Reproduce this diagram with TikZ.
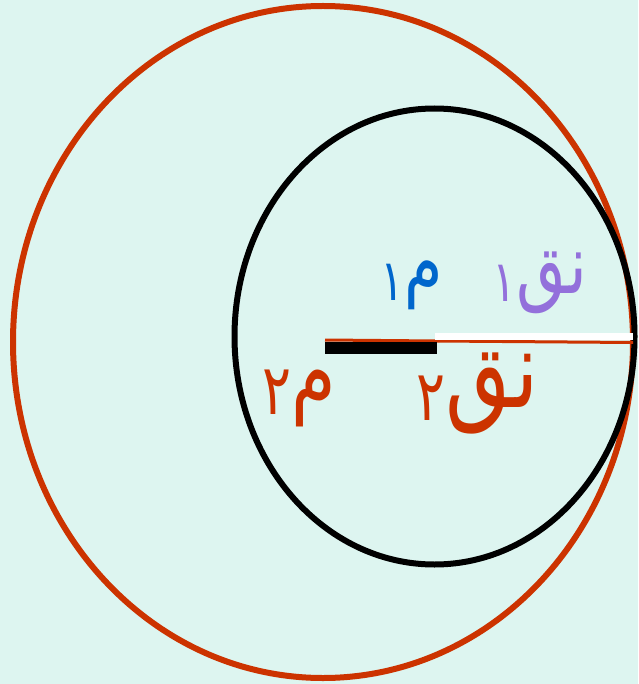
\documentclass[tikz,border=0pt]{standalone}
\usepackage{fontspec}
\usepackage{graphicx}
\newfontfamily\arabicfont[Script=Arabic]{DejaVu Sans}
\TeXXeTstate=1
\definecolor{bgmint}{RGB}{221,245,240}
\definecolor{rustred}{RGB}{204,51,0}
\definecolor{labblue}{RGB}{0,102,204}
\definecolor{labpurple}{RGB}{147,112,219}
\newcommand{\lowdig}[3]{\raisebox{#2}{\fontsize{#1}{#1}\selectfont #3}}
\newcommand{\tallar}[1]{\scalebox{1}[1.3]{#1}}
\tikzset{
  ring/.style={line width=6pt},
  lab/.style={inner sep=0pt}
}
\begin{document}
\begin{tikzpicture}[x=1pt,y=-1pt]
\fill[bgmint] (0,0) rectangle (638,684);
\useasboundingbox (0,0) rectangle (638,684);
\draw[ring, rustred] (323,342) ellipse [x radius=310, y radius=336];
\draw[ring, black] (434.5,336.5) ellipse [x radius=200, y radius=228];
\coordinate (c2) at (325,340);
\coordinate (c1) at (437,341);
\coordinate (e) at (633,342.5);
\draw[line width=3pt, rustred] (c2) -- (c1) -- (e);
\fill[black] (325,342) rectangle (437,354);
\fill[white] (435,333) rectangle (633,340);
\node[lab, text=labblue, font=\arabicfont\fontsize{62}{70}\selectfont] (m1) at (412,285) {\tallar{\beginR م\lowdig{44pt}{-8pt}{١}\endR}};
\node[lab, text=labpurple, font=\arabicfont\fontsize{64}{70}\selectfont] (n1) at (540,283) {\tallar{\beginR نق\lowdig{44pt}{-6pt}{١}\endR}};
\node[lab, text=rustred, font=\arabicfont\fontsize{72}{80}\selectfont] (m2) at (299,398) {\tallar{\beginR م\lowdig{54pt}{-8pt}{٢}\endR}};
\node[lab, text=rustred, font=\arabicfont\fontsize{84}{90}\selectfont] (n2) at (478,394) {\tallar{\beginR نق\lowdig{54pt}{-10pt}{٢}\endR}};
\end{tikzpicture}
\end{document}
